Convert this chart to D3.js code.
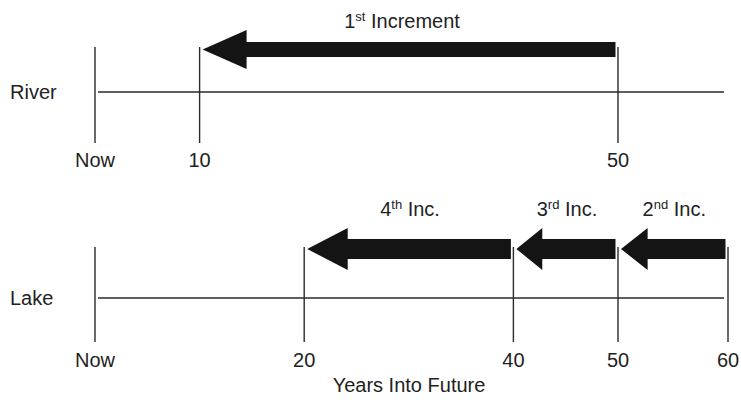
<!DOCTYPE html>
<html>
<head>
<meta charset="utf-8">
<script src="https://cdn.jsdelivr.net/npm/d3@7/dist/d3.min.js"></script>
<style>
  html, body { margin: 0; padding: 0; background: #fff; }
  svg { display: block; font-family: "Liberation Sans", Arial, Helvetica, sans-serif; }
</style>
</head>
<body>
<svg id="chart" width="741" height="402"></svg>
<script>
// ---- data ----
const rows = ["River", "Lake"];
const riverTicks = [0, 10, 50];
const lakeTicks = [0, 20, 40, 50, 60];
const zeroLabel = "Now";
const axisTitle = "Years Into Future";
const axisMax = 60;

const incOrdinal = ["1", "2", "3", "4"];
const incSuffix = ["st", "nd", "rd", "th"];
const incText = ["Increment", "Inc.", "Inc.", "Inc."];
const incRow = ["River", "Lake", "Lake", "Lake"];
const incStart = [50, 60, 50, 40];
const incEnd = [10, 50, 40, 20];

// ---- layout ----
const svg = d3.select("#chart");
const x = d3.scaleLinear().domain([0, 50, 60]).range([95, 618, 728]);
const rowTop = d3.scalePoint().domain(rows).range([47, 247]);
const layout = {
  River: { lineOff: 45, bottom: 96, arrowOff: 2.5, shaftHalf: 7.5, headHalf: 19.5, labelOff: -19, labelDx: -7, tickLabelOff: 120 },
  Lake:  { lineOff: 51, bottom: 95, arrowOff: 2,   shaftHalf: 10,  headHalf: 21,   labelOff: -31, labelDx: 1,  tickLabelOff: 120 }
};
const ticksByRow = { River: riverTicks, Lake: lakeTicks };
const lineColor = "#2a2a2a";
const textColor = "#222";

rows.forEach(r => {
  const L = layout[r];
  const top = rowTop(r);
  const g = svg.append("g");
  const ly = top + L.lineOff;
  // horizontal timeline
  g.append("line")
    .attr("x1", x(0) + 3).attr("x2", x(axisMax) - 4)
    .attr("y1", ly).attr("y2", ly)
    .attr("stroke", lineColor).attr("stroke-width", 1.4);
  // vertical tick lines
  g.selectAll("line.tick").data(ticksByRow[r]).join("line")
    .attr("class", "tick")
    .attr("x1", d => x(d)).attr("x2", d => x(d))
    .attr("y1", top).attr("y2", top + L.bottom)
    .attr("stroke", lineColor).attr("stroke-width", 1.4);
  // tick labels
  g.selectAll("text.tl").data(ticksByRow[r]).join("text")
    .attr("class", "tl")
    .attr("x", d => x(d)).attr("y", top + L.tickLabelOff)
    .attr("text-anchor", "middle")
    .attr("font-size", 20).attr("fill", textColor)
    .text(d => d === 0 ? zeroLabel : d);
  // row label
  g.append("text")
    .attr("x", 10).attr("y", ly + 7)
    .attr("font-size", 20).attr("fill", textColor)
    .text(r);
});

// arrows
incOrdinal.forEach((o, i) => {
  const r = incRow[i];
  const L = layout[r];
  const top = rowTop(r);
  const cy = top + L.arrowOff;
  const tip = x(incEnd[i]) + 3;
  const tail = x(incStart[i]) - 2.5;
  const len = tail - tip;
  const headLen = Math.min(44, 12 + 0.14 * len);
  const base = tip + headLen;
  const pts = [
    [tip, cy],
    [base, cy - L.headHalf],
    [base, cy - L.shaftHalf],
    [tail, cy - L.shaftHalf],
    [tail, cy + L.shaftHalf],
    [base, cy + L.shaftHalf],
    [base, cy + L.headHalf]
  ];
  svg.append("polygon")
    .attr("points", pts.map(p => p.join(",")).join(" "))
    .attr("fill", "#141414");

  const t = svg.append("text")
    .attr("x", (tip + tail) / 2 + L.labelDx).attr("y", top + L.labelOff)
    .attr("text-anchor", "middle")
    .attr("font-size", 20).attr("fill", textColor);
  t.append("tspan").text(o);
  t.append("tspan").attr("font-size", 13).attr("dy", -7).text(incSuffix[i]);
  t.append("tspan").attr("dy", 7).text(" " + incText[i]);
});

// axis title
svg.append("text")
  .attr("x", 409).attr("y", 392)
  .attr("text-anchor", "middle")
  .attr("font-size", 20).attr("fill", textColor)
  .text(axisTitle);
</script>
</body>
</html>
